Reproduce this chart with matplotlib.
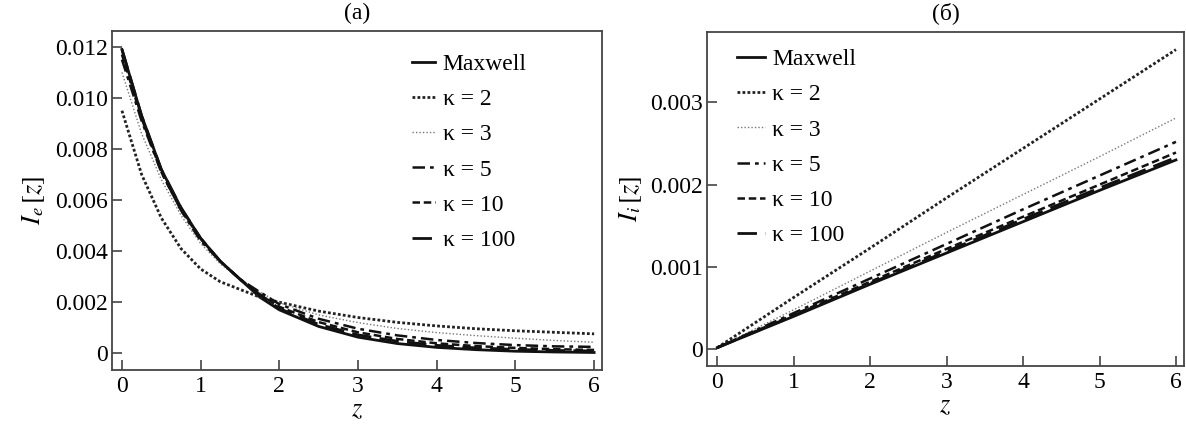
import matplotlib
matplotlib.use("Agg")
import matplotlib.pyplot as plt

plt.rcParams["font.family"] = "serif"
plt.rcParams["font.serif"] = ["Liberation Serif", "DejaVu Serif"]
plt.rcParams["mathtext.fontset"] = "stix"

# (a) electron term I_e[z]
z_a = [0, 0.25, 0.5, 0.75, 1, 1.25, 1.5, 1.75, 2, 2.5, 3, 3.5, 4, 4.5, 5, 5.5, 6]
ie_maxwell = [0.0119, 0.0093, 0.0072, 0.0057, 0.0045, 0.0036, 0.0029, 0.0022, 0.00170,
              0.00105, 0.00063, 0.00038, 0.00023, 0.00014, 0.00008, 0.00005, 0.00003]
ie_k2 = [0.0095, 0.0070, 0.0053, 0.0041, 0.0033, 0.0028, 0.0025, 0.0022, 0.00200,
         0.00165, 0.00140, 0.00121, 0.00107, 0.00096, 0.00088, 0.00082, 0.00076]
ie_k3 = [0.0110, 0.0086, 0.0068, 0.0054, 0.0043, 0.0035, 0.0029, 0.0024, 0.00198,
         0.00150, 0.00120, 0.00097, 0.00081, 0.00069, 0.00059, 0.00050, 0.00043]
ie_k5 = [0.0115, 0.0091, 0.0071, 0.0056, 0.0044, 0.0036, 0.0029, 0.0024, 0.00192,
         0.00135, 0.00096, 0.00070, 0.00052, 0.00040, 0.00032, 0.00027, 0.00025]
ie_k10 = [0.0117, 0.0092, 0.0071, 0.0056, 0.0045, 0.0036, 0.0029, 0.0023, 0.00182,
          0.00122, 0.00082, 0.00056, 0.00039, 0.00028, 0.00021, 0.00016, 0.00013]
ie_k100 = [0.0119, 0.0093, 0.0072, 0.0057, 0.0045, 0.0036, 0.0029, 0.0023, 0.00175,
           0.00113, 0.00072, 0.00047, 0.00031, 0.00021, 0.00015, 0.00011, 0.00009]

# (б) ion term I_i[z]
z_b = [0, 1, 2, 3, 4, 5, 6]
ii_maxwell = [0.00002, 0.00040, 0.00079, 0.00117, 0.00155, 0.00193, 0.00230]
ii_k2 = [0.00002, 0.00063, 0.00123, 0.00184, 0.00244, 0.00304, 0.00364]
ii_k3 = [0.00002, 0.00048, 0.00095, 0.00142, 0.00188, 0.00234, 0.00281]
ii_k5 = [0.00002, 0.00044, 0.00086, 0.00128, 0.00170, 0.00211, 0.00252]
ii_k10 = [0.00002, 0.00042, 0.00082, 0.00122, 0.00161, 0.00200, 0.00239]
ii_k100 = [0.00002, 0.00041, 0.00080, 0.00119, 0.00158, 0.00196, 0.00233]

labels = ["Maxwell", "κ = 2", "κ = 3", "κ = 5", "κ = 10", "κ = 100"]
styles = [
    dict(color="#111111", lw=2.0, ls="-"),
    dict(color="#222222", lw=2.0, ls=(0, (1, 0.8))),
    dict(color="#777777", lw=1.0, ls=(0, (1, 1.5))),
    dict(color="#111111", lw=1.8, ls=(0, (5, 2, 1.5, 2))),
    dict(color="#111111", lw=1.8, ls=(0, (3, 1.5))),
    dict(color="#111111", lw=2.0, ls=(0, (7, 3))),
]

FS = 17

fig = plt.figure(figsize=(11.86, 4.24), dpi=100)
ax1 = fig.add_axes([0.0944, 0.1274, 0.4132, 0.7988])
ax2 = fig.add_axes([0.5961, 0.1368, 0.4022, 0.7877])


def style_axes(ax):
    for s in ax.spines.values():
        s.set_color("#444444")
        s.set_linewidth(1.3)
    ax.tick_params(direction="in", length=7, width=1.2, color="#444444",
                   labelsize=FS, top=False, right=False)
    ax.tick_params(axis="x", pad=4)
    ax.tick_params(axis="y", pad=3)
    ax.set_xticks(range(0, 7))


series_a = [ie_maxwell, ie_k2, ie_k3, ie_k5, ie_k10, ie_k100]
for vals, lab, st in zip(series_a, labels, styles):
    ax1.plot(z_a, vals, label=lab, **st)
style_axes(ax1)
ax1.set_xlim(-0.127, 6.1)
ax1.set_ylim(-0.000655, 0.01261)
ax1.set_yticks([0, 0.002, 0.004, 0.006, 0.008, 0.010, 0.012])
ax1.set_yticklabels(["0", "0.002", "0.004", "0.006", "0.008", "0.010", "0.012"])
ax1.set_xlabel("$z$", fontsize=FS + 2, labelpad=2)
ax1.set_ylabel(r"$I_e\,[z]$", fontsize=FS + 2, labelpad=6)
ax1.set_title("(a)", fontsize=FS, pad=9)
ax1.legend(loc="upper left", bbox_to_anchor=(0.612, 0.935), frameon=False,
           fontsize=FS, handlelength=1.0, handletextpad=0.3, labelspacing=0.58,
           borderpad=0, borderaxespad=0)

series_b = [ii_maxwell, ii_k2, ii_k3, ii_k5, ii_k10, ii_k100]
for vals, lab, st in zip(series_b, labels, styles):
    ax2.plot(z_b, vals, label=lab, **st)
style_axes(ax2)
ax2.set_xlim(-0.135, 6.105)
ax2.set_ylim(-0.000203, 0.003854)
ax2.set_yticks([0, 0.001, 0.002, 0.003])
ax2.set_yticklabels(["0", "0.001", "0.002", "0.003"])
ax2.set_xlabel("$z$", fontsize=FS + 2, labelpad=2)
ax2.set_ylabel(r"$I_i\,[z]$", fontsize=FS + 2, labelpad=4)
ax2.set_title("(б)", fontsize=FS, pad=9)
ax2.legend(loc="upper left", bbox_to_anchor=(0.063, 0.95), frameon=False,
           fontsize=FS, handlelength=1.2, handletextpad=0.3, labelspacing=0.58,
           borderpad=0, borderaxespad=0)

fig.savefig("out.png", dpi=100)
